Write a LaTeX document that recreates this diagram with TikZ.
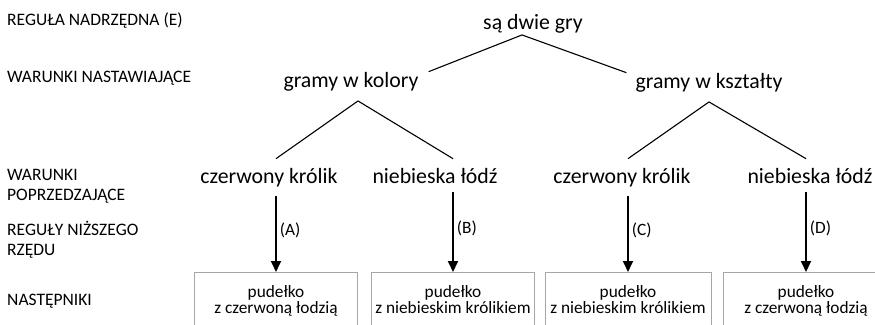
\documentclass[tikz,border=0pt]{standalone}
\usepackage{fontspec}
\setmainfont{Carlito}
\usetikzlibrary{arrows.meta}

\tikzset{
  etykieta/.style={anchor=base west, align=left, inner sep=0pt, font=\fontsize{17.5}{20}\selectfont},
  gra/.style={anchor=base, inner xsep=2pt, inner ysep=2pt, font=\fontsize{21.8}{25}\selectfont},
  warunek/.style={gra, inner ysep=9pt},
  pudelko/.style={draw=black!35, line width=0.8pt, anchor=north, minimum width=163pt, inner xsep=2pt, inner ysep=13pt, align=center, text depth=40pt, font=\fontsize{17.3}{16}\selectfont},
  regula/.style={line width=1.8pt, -{Triangle[width=10pt,length=11pt]}},
  galaz/.style={line width=1.1pt},
  litera/.style={right=3pt, inner sep=0pt, font=\fontsize{17.3}{20}\selectfont}
}

\begin{document}
\begin{tikzpicture}[x=1pt,y=-1pt]
\useasboundingbox (0,0) rectangle (875,324);
\clip (0,0) rectangle (875,324);

% poziomy po lewej
\node[etykieta] (e1) at (7,25) {REGUŁA NADRZĘDNA (E)};
\node[etykieta] (e2) at (7,82) {WARUNKI NASTAWIAJĄCE};
\node[etykieta] (e3) at (7,200) {WARUNKI\\POPRZEDZAJĄCE};
\node[etykieta] (e4) at (7,255) {REGUŁY NIŻSZEGO\\RZĘDU};
\node[etykieta] (e5) at (7,305) {NASTĘPNIKI};

% drzewo
\node[gra] (gry) at (533,29) {są dwie gry};
\node[gra, inner ysep=10pt] (kolory) at (351,87) {gramy w kolory};
\node[gra, inner ysep=10pt] (ksztalty) at (709,88) {gramy w kształty};

\node[warunek] (krolik1) at (269,183) {czerwony królik};
\node[warunek] (lodz1) at (435,183) {niebieska łódź};
\node[warunek] (krolik2) at (622,183) {czerwony królik};
\node[warunek] (lodz2) at (810,183) {niebieska łódź};

% pudelka
\node[pudelko] (p1) at (276,272) {pudełko\\z czerwoną łodzią};
\node[pudelko] (p2) at (453,272) {pudełko\\z niebieskim królikiem};
\node[pudelko, minimum width=166pt] (p3) at (628,272) {pudełko\\z niebieskim królikiem};
\node[pudelko, minimum width=166pt] (p4) at (806,272) {pudełko\\z czerwoną łodzią};

\draw[galaz] ([xshift=-11pt]gry.south) -- ([shift={(8pt,-10pt)}]kolory.north east);
\draw[galaz] ([xshift=-11pt]gry.south) -- ([shift={(-7pt,-10pt)}]ksztalty.north west);
\draw[galaz] ([xshift=7pt]kolory.south) -- (krolik1.north -| p1.north);
\draw[galaz] ([xshift=7pt]kolory.south) -- (lodz1.north -| p2.north);
\draw[galaz] (ksztalty.south) -- (krolik2.north -| p3.north);
\draw[galaz] (ksztalty.south) -- (lodz2.north -| p4.north);

\draw[regula] (krolik1.south -| p1.north) -- node[litera, pos=0.45] {(A)} (p1.north);
\draw[regula] (lodz1.south -| p2.north) -- node[litera, pos=0.45] {(B)} (p2.north);
\draw[regula] (krolik2.south -| p3.north) -- node[litera, pos=0.45] {(C)} (p3.north);
\draw[regula] (lodz2.south -| p4.north) -- node[litera, pos=0.45] {(D)} (p4.north);

\end{tikzpicture}
\end{document}
